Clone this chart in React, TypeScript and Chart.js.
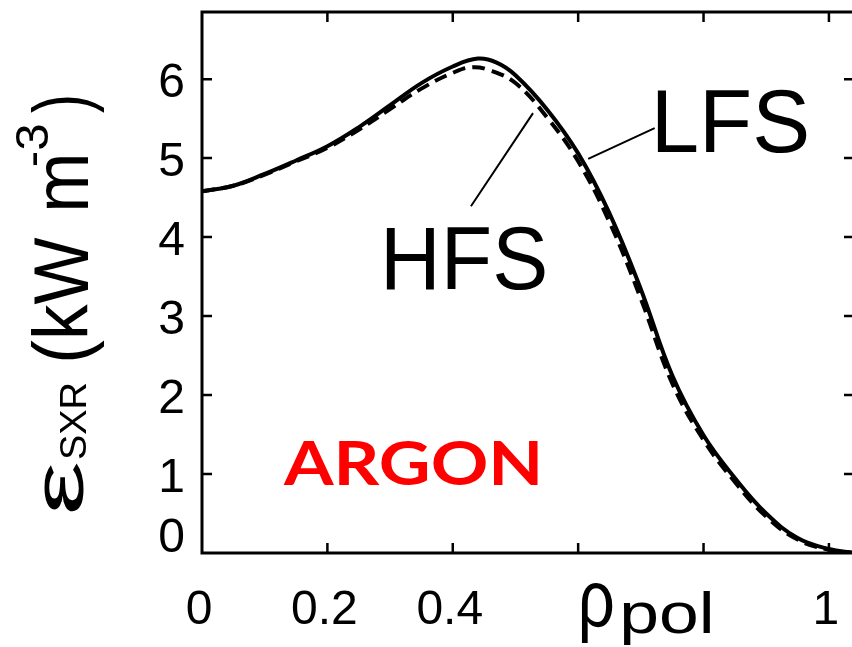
import { useEffect, useRef } from 'react';
import { Chart, registerables } from 'chart.js';

Chart.register(...registerables);

// ---- data ----
const RHO_LFS = [0, 0.05, 0.1, 0.15, 0.2, 0.25, 0.3, 0.35, 0.4, 0.44, 0.47, 0.5, 0.55, 0.6, 0.65, 0.7, 0.75, 0.8, 0.85, 0.9, 0.95, 1.0, 1.04];
const EPS_LFS = [4.58, 4.65, 4.80, 4.97, 5.15, 5.39, 5.67, 5.95, 6.16, 6.26, 6.21, 6.05, 5.62, 5.06, 4.30, 3.34, 2.25, 1.49, 0.95, 0.50, 0.19, 0.05, 0.0];
const RHO_HFS = [0, 0.05, 0.1, 0.15, 0.2, 0.25, 0.3, 0.35, 0.4, 0.43, 0.46, 0.5, 0.55, 0.6, 0.65, 0.7, 0.75, 0.8, 0.85, 0.9, 0.95, 1.0, 1.04];
const EPS_HFS = [4.58, 4.65, 4.79, 4.96, 5.13, 5.36, 5.62, 5.88, 6.08, 6.15, 6.11, 5.95, 5.52, 4.96, 4.19, 3.22, 2.15, 1.43, 0.90, 0.46, 0.17, 0.04, 0.0];

const X_TICKS = [0, 0.2, 0.4, 0.6, 0.8, 1];
const X_TICK_LABELS = ['0', '0.2', '0.4', '', '', '1'];
const Y_TICKS = [0, 1, 2, 3, 4, 5, 6];
const Y_TICK_LABELS = ['0', '1', '2', '3', '4', '5', '6'];

const X_MIN = 0;
const X_MAX = 1.04;
const Y_MIN = 0;
const Y_MAX = 6.85;

const SANS = '"Liberation Sans", Arial, Helvetica, sans-serif';

function fitText(ctx: CanvasRenderingContext2D, text: string, font: string, inkLeft: number, inkWidth: number, baseline: number, color: string, inkHeight = 0) {
  ctx.save();
  ctx.font = font;
  ctx.fillStyle = color;
  ctx.textAlign = 'left';
  ctx.textBaseline = 'alphabetic';
  const m = ctx.measureText(text);
  const w = m.actualBoundingBoxLeft + m.actualBoundingBoxRight;
  const sx = w > 0 ? inkWidth / w : 1;
  const sy = inkHeight > 0 && m.actualBoundingBoxAscent > 0 ? inkHeight / m.actualBoundingBoxAscent : 1;
  ctx.translate(inkLeft, baseline);
  ctx.scale(sx, sy);
  ctx.fillText(text, m.actualBoundingBoxLeft, 0);
  ctx.restore();
}

function fitTextUp(ctx: CanvasRenderingContext2D, text: string, font: string, inkBottomY: number, inkTopY: number, baselineX: number, color: string) {
  ctx.save();
  ctx.font = font;
  ctx.fillStyle = color;
  ctx.textAlign = 'left';
  ctx.textBaseline = 'alphabetic';
  const m = ctx.measureText(text);
  const w = m.actualBoundingBoxLeft + m.actualBoundingBoxRight;
  const sx = w > 0 ? (inkBottomY - inkTopY) / w : 1;
  ctx.translate(baselineX, inkBottomY);
  ctx.rotate(-Math.PI / 2);
  ctx.scale(sx, 1);
  ctx.fillText(text, m.actualBoundingBoxLeft, 0);
  ctx.restore();
}

const decorPlugin = {
  id: 'decor',
  afterDatasetsDraw(chart: any) {
    const ctx: CanvasRenderingContext2D = chart.ctx;
    const { left, right, top, bottom } = chart.chartArea;
    const xs = chart.scales.x;
    const ys = chart.scales.y;
    const px = (v: number) => xs.getPixelForValue(v);
    const py = (v: number) => ys.getPixelForValue(v);

    ctx.save();
    // frame
    ctx.strokeStyle = '#000';
    ctx.lineWidth = 3;
    ctx.strokeRect(left, top, right - left, bottom - top);

    // inward ticks
    ctx.lineWidth = 2.5;
    const TL = 10;
    ctx.beginPath();
    X_TICKS.forEach((v) => {
      if (v === X_MIN) return;
      const x = px(v);
      ctx.moveTo(x, bottom);
      ctx.lineTo(x, bottom - TL);
      ctx.moveTo(x, top);
      ctx.lineTo(x, top + TL);
    });
    Y_TICKS.forEach((v) => {
      if (v === Y_MIN) return;
      const y = py(v);
      ctx.moveTo(left, y);
      ctx.lineTo(left + TL, y);
      ctx.moveTo(right, y);
      ctx.lineTo(right - TL, y);
    });
    ctx.stroke();

    // tick labels
    ctx.fillStyle = '#000';
    ctx.font = `48px ${SANS}`;
    ctx.textBaseline = 'alphabetic';
    ctx.textAlign = 'center';
    X_TICKS.forEach((v, i) => {
      const lab = X_TICK_LABELS[i];
      if (!lab) return;
      ctx.fillText(lab, px(v) - 3, bottom + 71);
    });
    ctx.textAlign = 'right';
    Y_TICKS.forEach((v, i) => {
      const y = v === Y_MIN ? bottom - 1 : py(v) + 18;
      ctx.fillText(Y_TICK_LABELS[i], left - 17, y);
    });

    // x axis title: rho_pol
    {
      const rx = px(0.606);
      ctx.font = `80px ${SANS}`;
      const m = ctx.measureText('ρ');
      fitText(ctx, 'ρ', `80px ${SANS}`, rx, 31, bottom + 90 - m.actualBoundingBoxDescent, '#000');
      fitText(ctx, 'pol', `57px ${SANS}`, rx + 41, 87, bottom + 80, '#000');
    }

    // y axis title: eps_SXR (kW m^-3)
    fitTextUp(ctx, 'ε', `72px ${SANS}`, 512, 463, 83, '#000');
    fitTextUp(ctx, 'SXR', `36px ${SANS}`, 459, 383, 86, '#000');
    fitTextUp(ctx, '(kW', `78px ${SANS}`, 360, 237, 88, '#000');
    fitTextUp(ctx, 'm', `78px ${SANS}`, 208, 157, 88, '#000');
    fitTextUp(ctx, '-3', `46px ${SANS}`, 165, 125, 48, '#000');
    fitTextUp(ctx, ')', `78px ${SANS}`, 113, 97, 88, '#000');

    // leader lines
    ctx.strokeStyle = '#000';
    ctx.lineWidth = 2;
    ctx.beginPath();
    ctx.moveTo(px(0.616), py(4.99));
    ctx.lineTo(px(0.722), py(5.38));
    ctx.moveTo(px(0.528), py(5.57));
    ctx.lineTo(px(0.429), py(4.39));
    ctx.stroke();

    // annotations
    fitText(ctx, 'LFS', `86px ${SANS}`, px(0.727), 149, py(5.08), '#000', 62);
    fitText(ctx, 'HFS', `86px ${SANS}`, px(0.295), 158, py(3.34), '#000', 62);
    fitText(ctx, 'ARGON', `bold 62px Lato, "Open Sans", sans-serif`, px(0.129), 255, py(0.86), '#ff0000', 44);

    ctx.restore();
  },
};

export default function App() {
  const ref = useRef<HTMLCanvasElement>(null);
  useEffect(() => {
    const canvas = ref.current;
    if (!canvas) return;
    const chart = new Chart(canvas, {
      type: 'line',
      data: {
        datasets: [
          {
            label: 'LFS',
            data: RHO_LFS.map((x, i) => ({ x, y: EPS_LFS[i] })),
            borderColor: '#000',
            borderWidth: 4,
            pointRadius: 0,
            tension: 0.4,
            fill: false,
          },
          {
            label: 'HFS',
            data: RHO_HFS.map((x, i) => ({ x, y: EPS_HFS[i] })),
            borderColor: '#000',
            borderWidth: 4,
            borderDash: [13, 7],
            pointRadius: 0,
            tension: 0.4,
            fill: false,
          },
        ],
      },
      options: {
        responsive: false,
        devicePixelRatio: 1,
        animation: false,
        layout: { padding: { left: 202, top: 12, right: 26, bottom: 94 } },
        plugins: { legend: { display: false }, tooltip: { enabled: false } },
        scales: {
          x: { type: 'linear', display: false, min: X_MIN, max: X_MAX },
          y: { type: 'linear', display: false, min: Y_MIN, max: Y_MAX },
        },
      },
      plugins: [decorPlugin],
    } as any);
    const fonts = (document as any).fonts;
    if (fonts && fonts.load) {
      Promise.all([
        fonts.load('bold 62px Lato'),
        fonts.load('48px "Liberation Sans"'),
      ]).then(() => chart.draw()).catch(() => {});
    }
    return () => chart.destroy();
  }, []);
  return (
    <div style={{ position: 'fixed', left: 0, top: 0, width: 852, height: 647, overflow: 'hidden', background: '#fff' }}>
      <canvas ref={ref} width={880} height={647} style={{ display: 'block', width: 880, height: 647 }} />
    </div>
  );
}
